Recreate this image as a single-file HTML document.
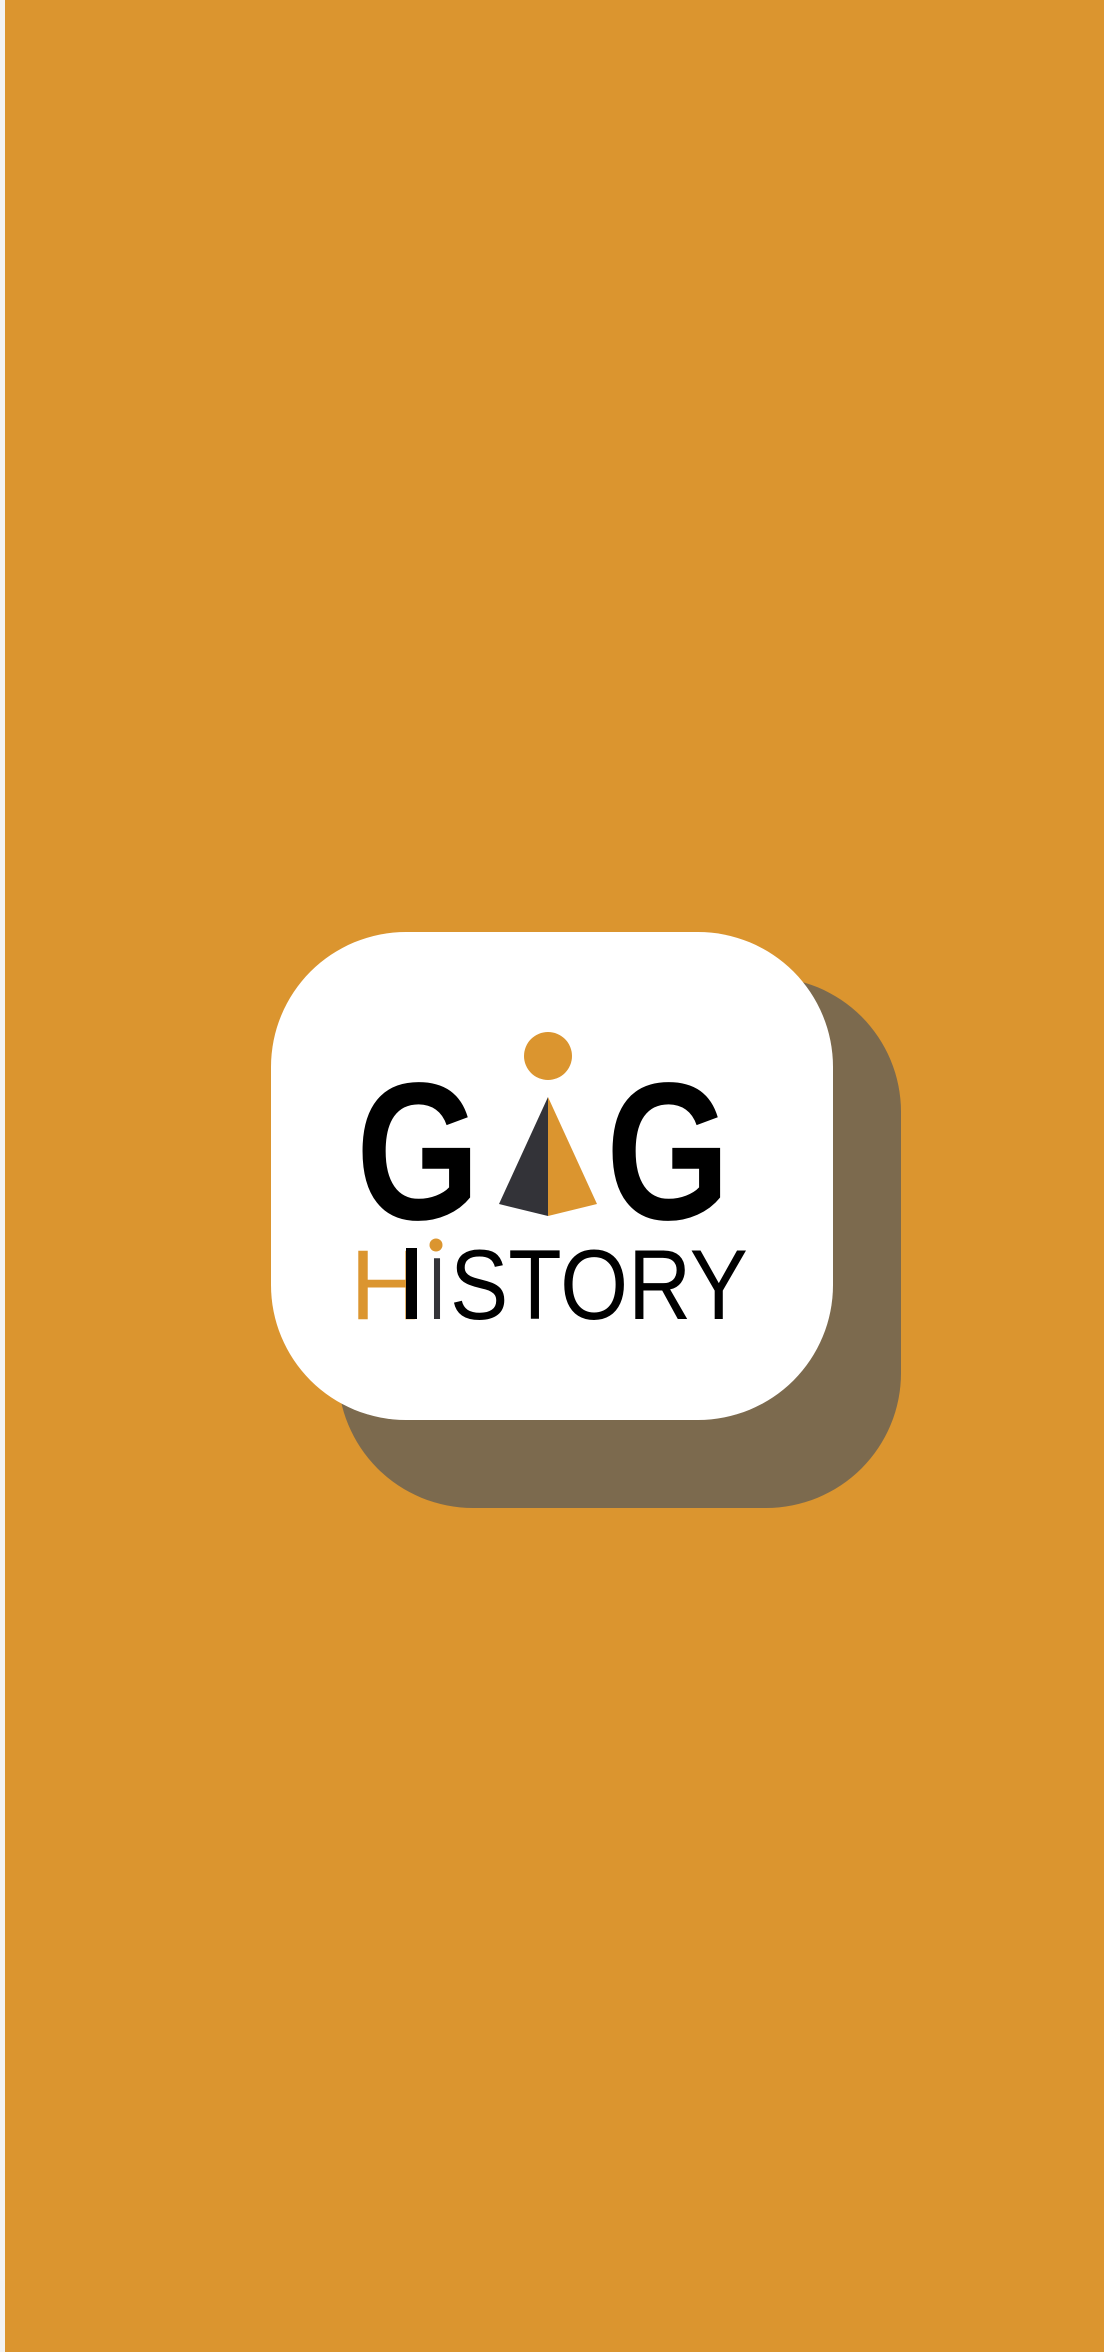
<!DOCTYPE html>
<html><head><meta charset="utf-8">
<style>
html,body{margin:0;padding:0;}
body{width:1104px;height:2352px;background:#DB952F;position:relative;overflow:hidden;font-family:"Liberation Sans",sans-serif;}
.strip{position:absolute;left:0;top:0;width:5px;height:2352px;background:#f3f3f3;}
.shadow{position:absolute;left:338px;top:977px;width:563px;height:531px;border-radius:135px;background:#7C6A4E;}
.card{position:absolute;left:271px;top:932px;width:562px;height:488px;border-radius:135px;background:#fff;}
svg{position:absolute;left:0;top:0;}
</style></head>
<body>
<div class="strip"></div>
<div class="shadow"></div>
<div class="card"></div>
<svg width="1104" height="2352">
  <text x="356" y="1219" font-family="Liberation Sans" font-weight="bold" font-size="196" textLength="124" lengthAdjust="spacingAndGlyphs" fill="#000">G</text>
  <text x="606" y="1219" font-family="Liberation Sans" font-weight="bold" font-size="196" textLength="124" lengthAdjust="spacingAndGlyphs" fill="#000">G</text>
  <circle cx="548" cy="1056" r="24" fill="#DB952F"/>
  <polygon points="548,1097 499,1204 548,1216" fill="#333338"/>
  <polygon points="548,1097 597,1204 548,1216" fill="#DB952F"/>
  <text x="350" y="1319" font-family="Liberation Sans" font-size="99" textLength="73" lengthAdjust="spacingAndGlyphs" fill="#DB952F">H</text>
  <rect x="406" y="1248" width="11" height="71" fill="#000"/>
  <text x="428" y="1319" font-family="Liberation Sans" font-size="88" textLength="18" lengthAdjust="spacingAndGlyphs" fill="#333338">I</text>
  <circle cx="436" cy="1245" r="6.5" fill="#DB952F"/>
  <text x="450" y="1319" font-family="Liberation Sans" font-size="99" textLength="298" lengthAdjust="spacingAndGlyphs" fill="#000">STORY</text>
</svg>
</body></html>
